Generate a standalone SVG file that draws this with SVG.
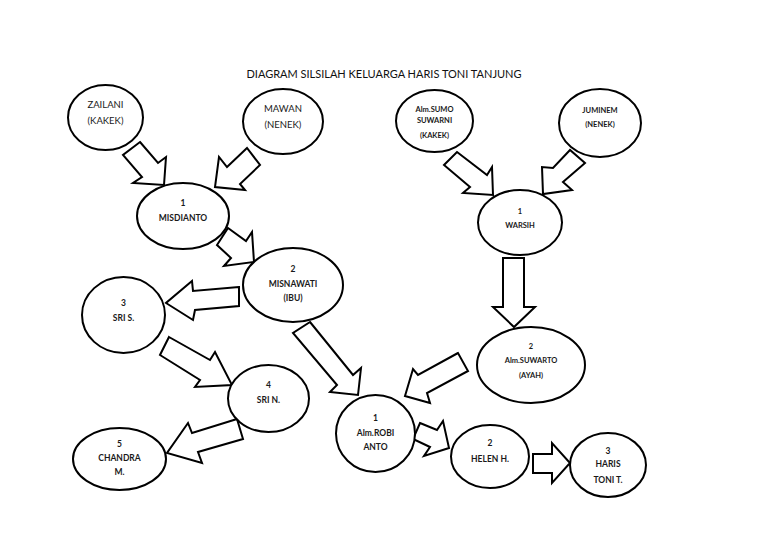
<svg xmlns="http://www.w3.org/2000/svg" width="768" height="544" viewBox="0 0 768 544">
<style>
.bg{fill:#ffffff}
.node ellipse{fill:#ffffff;stroke:#000000;stroke-width:2}
.node text{font-family:Lato,"Open Sans","Liberation Sans",sans-serif;font-size:8.5px;font-weight:bold;fill:#1a1a1a;text-anchor:middle}
.node text.reg{font-weight:normal;font-size:9.5px}
.node text.sm{font-size:7.5px}
.title{font-family:Lato,"Open Sans","Liberation Sans",sans-serif;font-size:11px;fill:#111111;text-anchor:middle}
#connectors polygon{fill:#ffffff;stroke:#000000;stroke-width:2;stroke-linejoin:miter}
</style>
<rect class="bg" x="0" y="0" width="768" height="544"/>
<text class="title" x="384" y="78">DIAGRAM SILSILAH KELUARGA HARIS TONI TANJUNG</text>

<g id="connectors">
<polygon points="140,142 158,163 166,157 164,185 133,183 142,177 123,155"/>
<polygon points="247,148 227,167 219,157 215,187 245,190 240,184 260,165"/>
<polygon points="228,228 246,241 252,232 254,262 224,266 231,258 217,245"/>
<polygon points="239,287 193,291 192,281 166,303 193,320 195,310 239,306"/>
<polygon points="169,337 210,360 215,352 232,385 195,387 200,380 160,355"/>
<polygon points="237,419 192,433 188,423 167,453 202,463 198,452 243,439"/>
<polygon points="457,152 487,175 492,167 493,195 463,193 470,187 444,165"/>
<polygon points="570,150 553,168 542,167 543,194 572,190 563,182 585,163"/>
<polygon points="503,258 524,258 524,307 535,307 514,327 493,307 503,307"/>
<polygon points="458,353 418,375 413,369 405,396 430,403 427,393 468,371"/>
<polygon points="310,322 353,375 361,368 358,395 330,392 337,385 293,333"/>
<polygon points="420,423 437,430 443,421 449,448 424,456 430,447 413,439"/>
<polygon points="533,454 552,454 552,443 570,463 552,483 552,473 533,473"/>
</g>

<g id="zailani" class="node">
<ellipse cx="105.5" cy="117.5" rx="37.5" ry="32.5"/>
<text class="reg" x="105.5" y="108">ZAILANI</text>
<text class="reg" x="105.5" y="124">(KAKEK)</text>
</g>
<g id="mawan" class="node">
<ellipse cx="283" cy="121.5" rx="40" ry="32.5"/>
<text class="reg" x="283" y="112">MAWAN</text>
<text class="reg" x="283" y="128">(NENEK)</text>
</g>
<g id="misdianto" class="node">
<ellipse cx="183" cy="216" rx="46" ry="33"/>
<text x="183" y="206">1</text>
<text x="183" y="221">MISDIANTO</text>
</g>
<g id="misnawati" class="node">
<ellipse cx="293" cy="285" rx="50" ry="37"/>
<text x="293" y="272">2</text>
<text x="293" y="287">MISNAWATI</text>
<text x="293" y="301">(IBU)</text>
</g>
<g id="sris" class="node">
<ellipse cx="123.5" cy="315" rx="41.5" ry="38"/>
<text x="123.5" y="306">3</text>
<text x="123.5" y="321">SRI S.</text>
</g>
<g id="srin" class="node">
<ellipse cx="268.5" cy="398.5" rx="40.5" ry="33.5"/>
<text x="268.5" y="388">4</text>
<text x="268.5" y="403">SRI N.</text>
</g>
<g id="chandra" class="node">
<ellipse cx="119.5" cy="459" rx="46.5" ry="31"/>
<text x="119.5" y="447">5</text>
<text x="119.5" y="461">CHANDRA</text>
<text x="119.5" y="475">M.</text>
</g>
<g id="sumo" class="node">
<ellipse cx="434.5" cy="121" rx="38.5" ry="31"/>
<text class="sm" x="434.5" y="111.5">Alm.SUMO</text>
<text class="sm" x="434.5" y="123">SUWARNI</text>
<text class="sm" x="434.5" y="137.5">(KAKEK)</text>
</g>
<g id="juminem" class="node">
<ellipse cx="600" cy="123" rx="41" ry="34"/>
<text class="sm" x="600" y="113">JUMINEM</text>
<text class="sm" x="600" y="127">(NENEK)</text>
</g>
<g id="warsih" class="node">
<ellipse cx="520" cy="222.5" rx="42" ry="32.5"/>
<text class="sm" x="520" y="214">1</text>
<text class="sm" x="520" y="228">WARSIH</text>
</g>
<g id="suwarto" class="node">
<ellipse cx="531" cy="365" rx="54" ry="38"/>
<text class="sm" x="531" y="349">2</text>
<text class="sm" x="531" y="363">Alm.SUWARTO</text>
<text class="sm" x="531" y="378">(AYAH)</text>
</g>
<g id="robi" class="node">
<ellipse cx="375.5" cy="433.5" rx="39.5" ry="38.5"/>
<text x="375.5" y="421">1</text>
<text x="375.5" y="436">Alm.ROBI</text>
<text x="375.5" y="450">ANTO</text>
</g>
<g id="helen" class="node">
<ellipse cx="490" cy="456.5" rx="39" ry="31.5"/>
<text x="490" y="446">2</text>
<text x="490" y="462">HELEN H.</text>
</g>
<g id="haris" class="node">
<ellipse cx="608" cy="465" rx="38" ry="32"/>
<text x="608" y="454">3</text>
<text x="608" y="467">HARIS</text>
<text x="608" y="483">TONI T.</text>
</g>
</svg>
